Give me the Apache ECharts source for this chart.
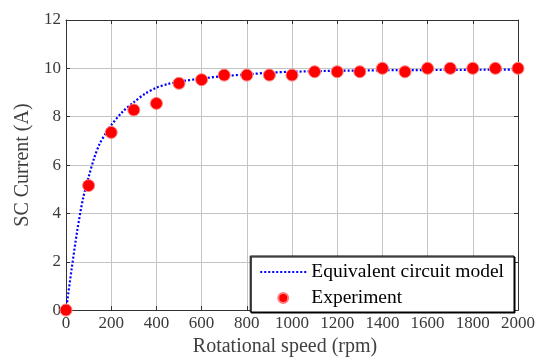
<!DOCTYPE html>
<html>
<head>
<meta charset="utf-8">
<script src="https://cdn.jsdelivr.net/npm/echarts@6/dist/echarts.min.js"></script>
<style>html,body{margin:0;padding:0;background:#fff;}#c{width:540px;height:362px;}</style>
</head>
<body>
<div id="c"></div>
<script>
// Experiment data
var expSpeed = [0,100,200,300,400,500,600,700,800,900,1000,1100,1200,1300,1400,1500,1600,1700,1800,1900,2000];
var expCurrent = [0,5.15,7.35,8.28,8.55,9.38,9.53,9.72,9.72,9.72,9.72,9.86,9.86,9.86,10.0,9.86,10.0,10.0,10.0,10.0,10.0];
// Equivalent circuit model
var modelSpeed = [0,25,50,75,100,125,150,175,200,250,300,350,400,450,500,600,700,800,900,1000,1200,1400,1600,1800,2000];
var modelCurrent = [0,1.7,3.3,4.6,5.5,6.3,6.9,7.3,7.65,8.2,8.6,8.95,9.2,9.35,9.45,9.58,9.68,9.75,9.82,9.86,9.9,9.92,9.93,9.94,9.95];
var xTicks = {min:0,max:2000,interval:200};
var yTicks = {min:0,max:12,interval:2};
var seriesNames = ['Equivalent circuit model','Experiment'];

var font = 'Liberation Serif';
var axisColor = '#333';
var chart = echarts.init(document.getElementById('c'));
var modelData = modelSpeed.map(function(s,i){return [s,modelCurrent[i]];});
var expData = expSpeed.map(function(s,i){return [s,expCurrent[i]];});

function baseAxis(extra){
  return Object.assign({
    axisLine:{show:true,onZero:false,lineStyle:{color:axisColor,width:1}},
    axisTick:{show:true,inside:true,length:4,lineStyle:{color:axisColor}},
    splitLine:{show:false}
  },extra);
}

chart.setOption({
  backgroundColor:'#fff',
  animation:false,
  grid:{left:66,right:22,top:20,bottom:47},
  xAxis:[
    baseAxis({type:'value',min:xTicks.min,max:xTicks.max,interval:xTicks.interval,position:'bottom',
      name:'Rotational speed (rpm)',nameLocation:'middle',nameGap:21,
      nameTextStyle:{fontFamily:font,fontSize:20,color:'#404040',padding:[0,14,0,0]},
      axisLabel:{fontFamily:font,fontSize:17,color:'#3a3a3a',margin:5,formatter:function(v){return String(v);}},
      splitLine:{show:true,lineStyle:{color:'#c4c4c4',width:1}}}),
    baseAxis({type:'value',min:xTicks.min,max:xTicks.max,interval:xTicks.interval,position:'top',axisLabel:{show:false}})
  ],
  yAxis:[
    baseAxis({type:'value',min:yTicks.min,max:yTicks.max,interval:yTicks.interval,position:'left',
      name:'SC Current (A)',nameLocation:'middle',nameGap:32,
      nameTextStyle:{fontFamily:font,fontSize:20,color:'#404040'},
      axisLabel:{fontFamily:font,fontSize:17,color:'#3a3a3a',margin:5},
      splitLine:{show:true,lineStyle:{color:'#c4c4c4',width:1}}}),
    baseAxis({type:'value',min:yTicks.min,max:yTicks.max,interval:yTicks.interval,position:'right',axisLabel:{show:false}})
  ],
  legend:{
    show:true,
    orient:'vertical',right:26,bottom:50,
    backgroundColor:'#fff',borderColor:'#000',borderWidth:1,
    shadowColor:'#000',shadowOffsetX:1,shadowOffsetY:1,shadowBlur:0,
    padding:[6,10,4,9],itemGap:6,itemWidth:46,itemHeight:10,
    textStyle:{fontFamily:font,fontSize:19.5,color:'#000'},
    data:[seriesNames[0],seriesNames[1]]
  },
  series:[
    {name:seriesNames[0],type:'line',data:modelData,symbol:'none',showSymbol:false,smooth:0.3,
     lineStyle:{color:'#0000ff',width:2.2,type:[2,2]},itemStyle:{color:'rgba(0,0,0,0)',borderWidth:0},z:2},
    {name:seriesNames[1],type:'scatter',data:expData,symbol:'circle',symbolSize:12,
     itemStyle:{color:'#ff0000',opacity:1,borderColor:'#ff8080',borderWidth:1},z:3}
  ]
});
</script>
</body>
</html>
